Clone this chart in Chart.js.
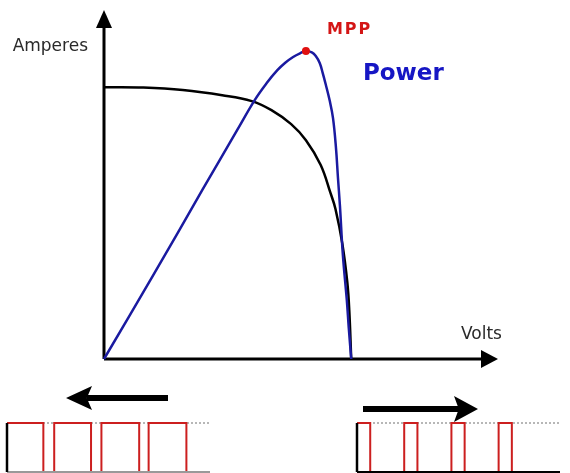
<!DOCTYPE html>
<html>
<head>
<meta charset="utf-8">
<title>MPPT</title>
<script src="https://cdn.jsdelivr.net/npm/chart.js@4.4.1/dist/chart.umd.min.js"></script>
<style>
  html, body { margin: 0; padding: 0; background: #fff; }
  #wrap { position: relative; width: 570px; height: 473px; overflow: hidden; }
  canvas { position: absolute; }
</style>
</head>
<body>
<div id="wrap">
  <canvas id="ivChart" width="570" height="473" style="left:0px;top:0px"></canvas>
  <canvas id="pwmLow" width="220" height="98" style="left:0px;top:375px"></canvas>
  <canvas id="pwmHigh" width="220" height="98" style="left:350px;top:375px"></canvas>
</div>
<script>
// I-V curve of the panel (volts / amperes)
const ivVolts = [0, 4, 8, 12, 15, 17, 19, 20.5, 22, 23, 23.5, 24.2, 24.7, 24.9, 25.1];
const ivAmps  = [7.79, 7.78, 7.71, 7.56, 7.39, 7.13, 6.73, 6.27, 5.56, 4.75, 4.3, 3.3, 2.2, 1.4, 0];

// power curve (volts / watts)
const powerVolts = [0, 5, 10, 13.5, 15.3, 16.5, 17.6, 18.4, 19.2, 19.9, 20.5, 21.1, 21.5, 21.9,
                    22.2, 22.5, 22.9, 23.25, 23.55, 23.75, 23.95, 24.25, 24.65, 24.85, 25.1];
const powerWatts = [0, 48, 97, 131, 148.4, 158, 165.5, 169.8, 173.1, 175.2, 176.5, 175.7, 173.6, 169.6,
                    164, 157.6, 148.4, 138, 121, 104, 88, 59.6, 33.8, 17.8, 0];

// maximum power point
const mppVolts = 20.5;
const mppWatts = 176.5;

// PWM signals: rising and falling edges (time units)
const lowRise  = [0, 10, 20, 30];
const lowFall  = [7.7, 17.8, 28, 38];
const highRise = [0, 10, 20, 30];
const highFall = [2.8, 12.8, 22.8, 32.8];
const pwmEnd = 43;

const FONT = '"DejaVu Sans", sans-serif';

function xy(xs, ys) {
  return xs.map((x, i) => ({ x: x, y: ys[i] }));
}

function arrowHead(ctx, tipX, tipY, dir, len, half) {
  // dir: 'up', 'right', 'left'
  ctx.beginPath();
  if (dir === 'up') {
    ctx.moveTo(tipX, tipY);
    ctx.lineTo(tipX - half, tipY + len);
    ctx.lineTo(tipX + half, tipY + len);
  } else if (dir === 'right') {
    ctx.moveTo(tipX, tipY);
    ctx.lineTo(tipX - len, tipY - half);
    ctx.lineTo(tipX - len * 0.8, tipY);
    ctx.lineTo(tipX - len, tipY + half);
  } else {
    ctx.moveTo(tipX, tipY);
    ctx.lineTo(tipX + len, tipY - half);
    ctx.lineTo(tipX + len * 0.8, tipY);
    ctx.lineTo(tipX + len, tipY + half);
  }
  ctx.closePath();
  ctx.fill();
}

// axes with arrows and the text labels
const axesPlugin = {
  id: 'ivAxes',
  beforeDatasetsDraw(chart) {
    const { ctx, chartArea: a, scales } = chart;
    const x0 = scales.x.getPixelForValue(0);
    const y0 = scales.y.getPixelForValue(0);
    ctx.save();
    ctx.strokeStyle = '#000';
    ctx.fillStyle = '#000';
    ctx.lineWidth = 3;
    ctx.beginPath();
    ctx.moveTo(x0, y0);
    ctx.lineTo(x0, a.top + 12);
    ctx.moveTo(x0, y0);
    ctx.lineTo(a.right - 12, y0);
    ctx.stroke();
    arrowHead(ctx, x0, a.top, 'up', 18, 8);
    ctx.beginPath();
    ctx.moveTo(a.right, y0);
    ctx.lineTo(a.right - 17, y0 - 9);
    ctx.lineTo(a.right - 17, y0 + 9);
    ctx.closePath();
    ctx.fill();

    ctx.fillStyle = '#2a2a2a';
    ctx.font = '17px ' + FONT;
    ctx.textBaseline = 'middle';
    ctx.textAlign = 'right';
    ctx.fillText('Amperes', x0 - 16, 47);
    ctx.textAlign = 'left';
    ctx.fillText('Volts', a.right - 37, y0 - 24);
    ctx.restore();
  },
  afterDatasetsDraw(chart) {
    const { ctx, scales } = chart;
    const px = scales.x.getPixelForValue(mppVolts);
    const py = scales.y2.getPixelForValue(mppWatts);
    ctx.save();
    ctx.textBaseline = 'middle';
    ctx.textAlign = 'left';
    ctx.fillStyle = '#d41515';
    ctx.font = 'bold 16px ' + FONT;
    ctx.letterSpacing = '2px';
    ctx.fillText('MPP', px + 21, py - 21);
    ctx.letterSpacing = '0px';
    ctx.fillStyle = '#1616c4';
    ctx.font = 'bold 23px ' + FONT;
    ctx.fillText('Power', px + 57, py + 23);
    ctx.restore();
  }
};

new Chart(document.getElementById('ivChart'), {
  type: 'scatter',
  data: {
    datasets: [
      {
        label: 'MPP',
        data: [{ x: mppVolts, y: mppWatts }],
        yAxisID: 'y2',
        pointRadius: 4,
        pointBackgroundColor: '#e01010',
        pointBorderWidth: 0,
        showLine: false
      },
      {
        label: 'Power',
        data: xy(powerVolts, powerWatts),
        yAxisID: 'y2',
        showLine: true,
        borderColor: '#1a1aa0',
        borderWidth: 2.5,
        pointRadius: 0,
        tension: 0.4,
        clip: false
      },
      {
        label: 'Current',
        data: xy(ivVolts, ivAmps),
        yAxisID: 'y',
        showLine: true,
        borderColor: '#000',
        borderWidth: 2.5,
        pointRadius: 0,
        tension: 0.4,
        clip: false
      }
    ]
  },
  options: {
    responsive: false,
    animation: false,
    devicePixelRatio: 1,
    layout: { padding: { left: 104, top: 10, right: 72, bottom: 114 } },
    plugins: { legend: { display: false }, tooltip: { enabled: false } },
    scales: {
      x: { type: 'linear', min: 0, max: 40, display: false },
      y: { min: 0, max: 10, display: false },
      y2: { min: 0, max: 200, display: false, position: 'right' }
    }
  },
  plugins: [axesPlugin]
});

// build a stepped pulse train from edge lists
function pulses(rise, fall) {
  const pts = [];
  rise.forEach((r, i) => {
    pts.push({ x: r, y: 1 });
    pts.push({ x: fall[i], y: 0 });
  });
  pts.push({ x: pwmEnd, y: 0 });
  return pts;
}

function pwmChart(id, rise, fall, baseColor, arrowDir) {
  const framePlugin = {
    id: 'pwmFrame',
    afterDatasetsDraw(chart) {
      const { ctx, chartArea: a, scales } = chart;
      const x0 = scales.x.getPixelForValue(0);
      const yb = scales.y.getPixelForValue(0);
      const yt = scales.y.getPixelForValue(1);
      ctx.save();
      ctx.lineWidth = 2;
      ctx.strokeStyle = baseColor;
      ctx.beginPath();
      ctx.moveTo(x0, yb);
      ctx.lineTo(a.right, yb);
      ctx.stroke();
      ctx.strokeStyle = '#000';
      ctx.lineWidth = 2.5;
      ctx.beginPath();
      ctx.moveTo(x0, yb);
      ctx.lineTo(x0, yt);
      ctx.stroke();

      // direction arrow above the signal
      ctx.fillStyle = '#000';
      if (arrowDir === 'left') {
        const y = yt - 25;
        ctx.fillRect(a.left + 80, y - 3, 81, 6);
        arrowHead(ctx, a.left + 59, y, 'left', 26, 12);
      } else {
        const y = yt - 14;
        ctx.fillRect(a.left + 6, y - 3, 100, 6);
        arrowHead(ctx, a.left + 121, y, 'right', 24, 13);
      }
      ctx.restore();
    }
  };

  new Chart(document.getElementById(id), {
    type: 'line',
    data: {
      datasets: [
        {
          data: pulses(rise, fall),
          stepped: 'before',
          borderColor: '#cc1f1f',
          borderWidth: 2,
          pointRadius: 0,
          clip: false
        },
        {
          data: [{ x: 0, y: 1 }, { x: pwmEnd, y: 1 }],
          borderColor: '#a0a0a0',
          borderWidth: 1.5,
          borderDash: [2, 2],
          pointRadius: 0,
          clip: false
        }
      ]
    },
    options: {
      responsive: false,
      animation: false,
      devicePixelRatio: 1,
      layout: { padding: { left: 7, right: 10, top: 48, bottom: 1 } },
      plugins: { legend: { display: false }, tooltip: { enabled: false } },
      scales: {
        x: { type: 'linear', min: 0, max: pwmEnd, display: false },
        y: { min: 0, max: 1, display: false }
      }
    },
    plugins: [framePlugin]
  });
}

pwmChart('pwmLow', lowRise, lowFall, '#999', 'left');
pwmChart('pwmHigh', highRise, highFall, '#000', 'right');
</script>
</body>
</html>
